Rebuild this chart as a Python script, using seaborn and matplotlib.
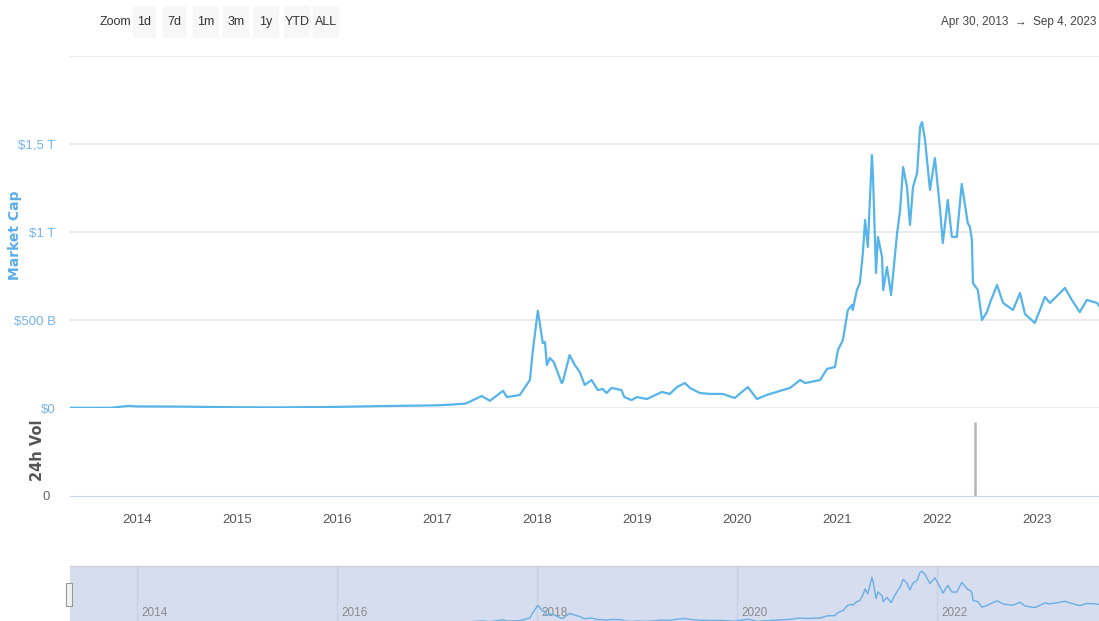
import pandas as pd
import matplotlib
matplotlib.use("Agg")
import matplotlib.pyplot as plt
from matplotlib.patches import Rectangle
import seaborn as sns

# Market cap, billions of USD
cap_dates = [
    "2013-04-30", "2013-07-01", "2013-10-01", "2013-12-01", "2014-01-01", "2014-06-01",
    "2014-12-31", "2015-06-01", "2015-12-01", "2016-06-15", "2016-12-31", "2017-03-01",
    "2017-04-15", "2017-06-13", "2017-07-13", "2017-08-30", "2017-09-13", "2017-10-30",
    "2017-12-06", "2017-12-17", "2018-01-04", "2018-01-11", "2018-01-22", "2018-01-30",
    "2018-02-06", "2018-02-17", "2018-03-03", "2018-04-01", "2018-04-05", "2018-04-30",
    "2018-05-19", "2018-06-06", "2018-06-24", "2018-07-19", "2018-08-11", "2018-08-29",
    "2018-09-12", "2018-09-30", "2018-11-05", "2018-11-16", "2018-12-12", "2019-01-01",
    "2019-02-06", "2019-04-02", "2019-05-01", "2019-05-27", "2019-06-25", "2019-07-13",
    "2019-08-19", "2019-09-25", "2019-11-10", "2019-12-24", "2020-02-10", "2020-03-14",
    "2020-04-19", "2020-06-06", "2020-07-13", "2020-08-19", "2020-09-06", "2020-10-31",
    "2020-11-25", "2020-12-24", "2021-01-04", "2021-01-22", "2021-02-09", "2021-02-24",
    "2021-02-27", "2021-03-14", "2021-03-25", "2021-04-05", "2021-04-13", "2021-04-23",
    "2021-05-08", "2021-05-12", "2021-05-23", "2021-05-30", "2021-06-14", "2021-06-18",
    "2021-07-02", "2021-07-17", "2021-08-08", "2021-08-19", "2021-08-30", "2021-09-13",
    "2021-09-24", "2021-10-05", "2021-10-20", "2021-10-31", "2021-11-07", "2021-11-18",
    "2021-12-06", "2021-12-24", "2022-01-11", "2022-01-22", "2022-02-09", "2022-02-24",
    "2022-03-14", "2022-04-01", "2022-04-23", "2022-05-01", "2022-05-08", "2022-05-12",
    "2022-05-30", "2022-06-14", "2022-07-02", "2022-07-13", "2022-08-08", "2022-08-30",
    "2022-10-05", "2022-10-31", "2022-11-18", "2022-12-24", "2023-01-30", "2023-02-17",
    "2023-04-13", "2023-05-08", "2023-06-06", "2023-07-02", "2023-08-08", "2023-09-04",
]
cap_values = [
    1.5, 1.0, 1.5, 12, 9, 8,
    4, 3.5, 5.5, 11, 15, 20,
    25, 68, 41, 98, 62, 74,
    159, 330, 553, 483, 369, 375,
    244, 284, 261, 142, 148, 301,
    244, 205, 131, 159, 102, 108,
    85, 114, 102, 62, 45, 62,
    51, 91, 80, 119, 142, 114,
    85, 80, 80, 57, 119, 51,
    74, 97, 114, 159, 142, 159,
    222, 233, 330, 386, 557, 585,
    557, 670, 710, 881, 1068, 915,
    1437, 1312, 767, 972, 858, 670,
    801, 642, 994, 1125, 1369, 1256,
    1040, 1256, 1335, 1597, 1625, 1523,
    1239, 1420, 1142, 937, 1182, 972,
    972, 1273, 1051, 1028, 955, 710,
    670, 500, 545, 597, 699, 597,
    557, 653, 534, 483, 631, 597,
    682, 614, 545, 614, 597, 540,
]

# 24h volume (relative units): only one bar shows
vol_dates = ["2022-05-19"]
vol_values = [89]

cap_ticks = [0, 500, 1000, 1500, 2000]
cap_tick_labels = ["$0", "$500 B", "$1 T", "$1,5 T", ""]
year_ticks = list(range(2014, 2024))
nav_years = [2014, 2016, 2018, 2020, 2022]
zoom_buttons = ["1d", "7d", "1m", "3m", "1y", "YTD", "ALL"]

W, H = 1099, 621
start, end = pd.Timestamp("2013-04-30"), pd.Timestamp("2023-09-04")

sns.set_style("white")
plt.rcParams["font.family"] = ["Liberation Sans", "DejaVu Sans"]

cap = pd.DataFrame({"date": pd.to_datetime(cap_dates), "cap": cap_values})
vol = pd.DataFrame({"date": pd.to_datetime(vol_dates), "vol": vol_values})

fig = plt.figure(figsize=(W / 100, H / 100), dpi=100)


def box(x0, y0, x1, y1):
    # pixel box (top-left origin) -> figure fraction rect
    return [x0 / W, 1 - y1 / H, (x1 - x0) / W, (y1 - y0) / H]


line_col = "#55b4ea"
grid_col = "#e6e6e6"

# main pane
ax = fig.add_axes(box(69.6, 56, 1104.4, 408))
ax.set_facecolor("none")
sns.lineplot(data=cap, x="date", y="cap", ax=ax, color=line_col, linewidth=1.6, zorder=3)
ax.set_xlim(start, end)
ax.set_ylim(0, 2000)
ax.set_yticks(cap_ticks)
ax.set_yticklabels(cap_tick_labels)
ax.tick_params(axis="y", length=0, pad=10, labelsize=9.5, labelcolor="#74b3ea")
ax.set_xticks([])
ax.set_xlabel("")
ax.set_ylabel("")
for s in ax.spines.values():
    s.set_visible(False)
for t in cap_ticks:
    ax.axhline(t, color=grid_col, lw=1.8 if t == 0 else 1.2, zorder=1)
fig.text(15 / W, 1 - 235 / H, "Market Cap", rotation=90, ha="center", va="center",
         color="#5aaee8", fontsize=10, fontweight="bold", family="DejaVu Sans")

# volume pane
axv = fig.add_axes(box(69.6, 413, 1104.4, 496))
axv.set_facecolor("none")
axv.vlines(vol["date"], 0, vol["vol"], color="#b5b5b5", lw=1.8)
axv.set_xlim(start, end)
axv.set_ylim(0, 100)
axv.set_yticks([0])
axv.set_yticklabels(["0"])
axv.tick_params(axis="y", length=0, pad=14, labelsize=9.5, labelcolor="#666666")
axv.set_xticks([pd.Timestamp(f"{y}-01-01") for y in year_ticks])
axv.set_xticklabels([str(y) for y in year_ticks])
axv.tick_params(axis="x", length=7, width=1, color="#ccd6eb", labelsize=9.5,
                labelcolor="#555555", pad=6)
for k, s in axv.spines.items():
    s.set_visible(k == "bottom")
axv.spines["bottom"].set_color("#ccd6eb")
fig.text(38 / W, 1 - 450 / H, "24h Vol", rotation=90, ha="center", va="center",
         color="#555555", fontsize=10.5, fontweight="bold", family="DejaVu Sans")

# navigator
axn = fig.add_axes(box(69.6, 566, 1104.4, 623))
axn.set_facecolor("#d6ddee")
for y in nav_years:
    d = pd.Timestamp(f"{y}-01-01")
    axn.axvline(d, color="#c7cfe2", lw=1, zorder=1)
    axn.text(d + pd.Timedelta(days=15), 0.18, str(y), transform=axn.get_xaxis_transform(),
             color="#8a8a8a", fontsize=8.5, ha="left", va="center", zorder=2)
sns.lineplot(data=cap, x="date", y="cap", ax=axn, color="#6aaee6", linewidth=1, zorder=3)
axn.set_xlim(start, end)
axn.set_ylim(0, 1790)
axn.set_xticks([])
axn.set_yticks([])
axn.set_xlabel("")
axn.set_ylabel("")
for k, s in axn.spines.items():
    s.set_visible(k == "top")
axn.spines["top"].set_color("#cccccc")
fig.add_artist(Rectangle(box(66, 583, 72, 606)[:2], 6 / W, 23 / H, transform=fig.transFigure,
                         facecolor="#f2f2f2", edgecolor="#999999", lw=0.8, zorder=5))

# range selector
fig.text(115 / W, 1 - 22 / H, "Zoom", ha="center", va="center", color="#333333", fontsize=9)
btn_x = [133, 163, 193, 223, 253, 284, 313]
btn_w = [23, 23, 26, 26, 26, 26, 26]
for x0, w, lab in zip(btn_x, btn_w, zoom_buttons):
    fig.add_artist(Rectangle(box(x0, 6, x0 + w, 38)[:2], w / W, 32 / H, transform=fig.transFigure,
                             facecolor="#f7f7f7", edgecolor="none"))
    fig.text((x0 + w / 2) / W, 1 - 22 / H, lab, ha="center", va="center", color="#333333", fontsize=9)
fig.text(1096 / W, 1 - 22 / H, "Apr 30, 2013  \u2192  Sep 4, 2023", ha="right", va="center",
         color="#444444", fontsize=8.5)

fig.savefig("out.png", dpi=100)
